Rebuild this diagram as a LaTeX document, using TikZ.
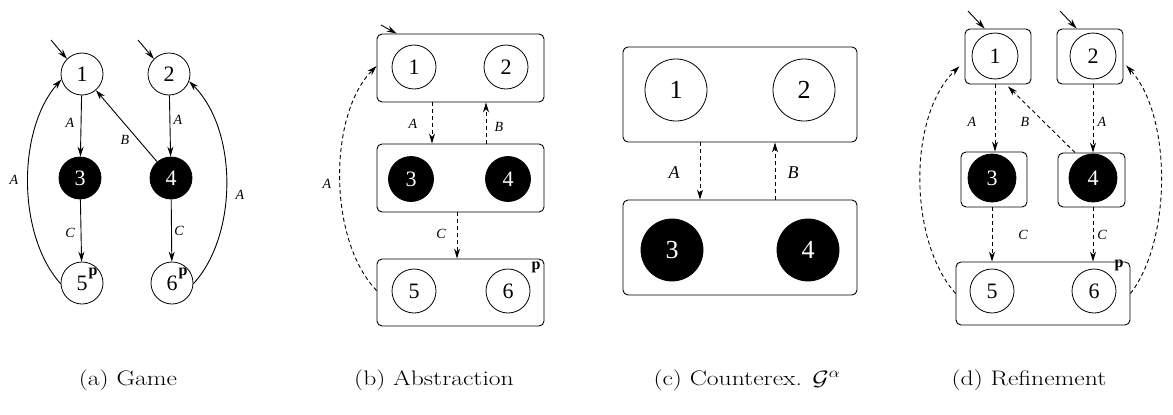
\documentclass[tikz,border=0pt]{standalone}
\usepackage{fontspec}
\usetikzlibrary{arrows.meta}
\newfontfamily\tms{Liberation Serif}
\newcommand{\stfont}{\tms\fontsize{22}{22}\selectfont}
\newcommand{\bigstfont}{\tms\fontsize{26}{26}\selectfont}
\newcommand{\labfont}{\tms\itshape\fontsize{14}{14}\selectfont}
\newcommand{\biglabfont}{\tms\itshape\fontsize{18}{18}\selectfont}
\newcommand{\pfont}{\tms\bfseries\fontsize{16}{16}\selectfont}
\newcommand{\capfont}{\fontsize{21}{24}\selectfont}
\newcommand{\capwide}[1]{\scalebox{1.22}[1]{#1}}
\tikzset{
  st/.style={circle, draw, line width=0.8pt, minimum size=42pt, inner sep=0pt, font=\stfont},
  pl/.style={st, fill=black, text=white},
  bst/.style={st, minimum size=62pt, font=\bigstfont},
  bpl/.style={bst, fill=black, text=white},
  box/.style={draw, rounded corners=5pt, line width=0.9pt, inner sep=0pt},
  arr/.style={-{Stealth[length=10pt,width=6pt]}, line width=0.9pt},
  darr/.style={arr, dash pattern=on 4pt off 3pt},
  lab/.style={font=\labfont, inner sep=0pt},
  blab/.style={font=\biglabfont, inner sep=0pt},
  plab/.style={font=\pfont, inner sep=0pt},
  captext/.style={font=\capfont, inner sep=0pt, anchor=base},
}
\begin{document}
\begin{tikzpicture}[x=1pt, y=-1pt]
\useasboundingbox (0,0) rectangle (1173,415);
% ---------------- (a) Game
\node[st] (a1) at (82,74) {1};
\node[st] (a2) at (169,74) {2};
\node[pl] (a3) at (80,178) {3};
\node[pl] (a4) at (171,178) {4};
\node[st] (a5) at (82,283) {\raisebox{-3pt}{5}};
\node[st] (a6) at (172,283) {\raisebox{-3pt}{6}\hspace{6pt}};
\node[plab] (ap5) at (93,273) {p};
\node[plab] (ap6) at (183,273) {p};
\coordinate (ai1) at (51,40);
\coordinate (ai2) at (138,40);
\draw[arr] (ai1) -- (a1.135);
\draw[arr] (ai2) -- (a2.135);
\draw[arr] (a1) -- (a3);
\draw[arr] (a2) -- (a4);
\draw[arr] (a4) -- (a1);
\draw[arr] (a3) -- (a5);
\draw[arr] (a4) -- (a6);
\draw[arr] (a5.182) .. controls (17,235) and (17,130) .. (a1.195);
\draw[arr] (a6.-2) .. controls (238,235) and (238,130) .. (a2.-20);
\node[lab] at (70,123) {A};
\node[lab] at (178,120) {A};
\node[lab] at (125,140) {B};
\node[lab] at (70,233) {C};
\node[lab] at (179,231) {C};
\node[lab] at (14,180) {A};
\node[lab] at (240,195) {A};
% ---------------- (b) Abstraction
\node[box, minimum width=167pt, minimum height=68pt] (b1) at (460.5,68) {};
\node[box, minimum width=167pt, minimum height=68pt] (b2) at (460.5,178) {};
\node[box, minimum width=167pt, minimum height=67pt] (b3) at (460.5,292.5) {};
\node[st, minimum size=44pt] (bn1) at (414,67) {1};
\node[st, minimum size=44pt] (bn2) at (506,67) {2};
\node[pl, minimum size=45pt] (bn3) at (411,179) {3};
\node[pl, minimum size=45pt] (bn4) at (508,179) {4};
\node[st, minimum size=44pt] (bn5) at (414,291) {5};
\node[st, minimum size=44pt] (bn6) at (508,291) {6};
\node[plab] (bp) at (536,267) {p};
\coordinate (bi) at (381,25);
\draw[arr] (bi) -- ([xshift=20pt]b1.north west);
\draw[darr] ([xshift=-28.5pt]b1.south) -- ([xshift=-28.5pt]b2.north);
\draw[darr] ([xshift=25.5pt]b2.north) -- ([xshift=25.5pt]b1.south);
\draw[darr] ([xshift=-3.5pt]b2.south) -- ([xshift=-3.5pt]b3.north);
\draw[darr] ([yshift=2pt]b3.west) .. controls (328,240) and (328,115) .. ([yshift=2pt]b1.west);
\node[lab] at (413,124) {A};
\node[lab] at (499,127) {B};
\node[lab] at (441,234) {C};
\node[lab] at (327,184) {A};
% ---------------- (c) Counterexample
\node[box, minimum width=234pt, minimum height=95pt] (c1) at (740,94.5) {};
\node[box, minimum width=234pt, minimum height=95pt] (c2) at (740,247.5) {};
\node[bst] (cn1) at (676,90) {1};
\node[bst] (cn2) at (804,90) {2};
\node[bpl] (cn3) at (672,250) {3};
\node[bpl] (cn4) at (808,250) {4};
\draw[darr] ([xshift=-40pt]c1.south) -- ([xshift=-40pt]c2.north);
\draw[darr] ([xshift=35pt]c2.north) -- ([xshift=35pt]c1.south);
\node[blab] at (674,173) {A};
\node[blab] at (793,173) {B};
% ---------------- (d) Refinement
\node[box, minimum width=66pt, minimum height=55pt] (d1) at (998,56.5) {};
\node[box, minimum width=66pt, minimum height=55pt] (d2) at (1090,56.5) {};
\node[box, minimum width=66pt, minimum height=55pt] (d3) at (994,179.5) {};
\node[box, minimum width=67pt, minimum height=54pt] (d4) at (1091.5,180) {};
\node[box, minimum width=174pt, minimum height=63pt] (d5) at (1043,293.5) {};
\node[st, minimum size=46pt] (dn1) at (995,56) {1};
\node[st, minimum size=46pt] (dn2) at (1093,56) {2};
\node[pl, minimum size=48pt] (dn3) at (992,178) {3};
\node[pl, minimum size=48pt] (dn4) at (1093,178) {4};
\node[st, minimum size=44pt] (dn5) at (992,291) {5};
\node[st, minimum size=44pt] (dn6) at (1094,291) {6};
\node[plab] (dp) at (1119,265) {p};
\coordinate (di1) at (968,11);
\coordinate (di2) at (1060,11);
\draw[arr] (di1) -- ([xshift=20pt]d1.north west);
\draw[arr] (di2) -- ([xshift=20pt]d2.north west);
\draw[darr] (dn1 |- d1.south) -- (dn1 |- d3.north);
\draw[darr] (dn2 |- d2.south) -- (dn2 |- d4.north);
\draw[darr] ([xshift=-16.5pt]d4.north) -- ([xshift=10pt,yshift=-2pt]d1.south);
\draw[darr] (dn3 |- d3.south) -- (dn3 |- d5.north);
\draw[darr] (dn4 |- d4.south) -- (dn4 |- d5.north);
\draw[darr, shorten >=7pt] (d5.west) .. controls (908,240) and (908,115) .. ([yshift=-5pt]d1.west);
\draw[darr, shorten >=4pt] (d5.east) .. controls (1172,240) and (1172,115) .. ([yshift=-6pt]d2.east);
\node[lab] at (972,122) {A};
\node[lab] at (1102,122) {A};
\node[lab] at (1025,122) {B};
\node[lab] at (1023,235) {C};
\node[lab] at (1102,235) {C};
% ---------------- captions
\node[captext] (capa) at (128,385) {\capwide{(a) Game}};
\node[captext] (capb) at (434,385) {\capwide{(b) Abstraction}};
\node[captext] (capc) at (747,385) {\capwide{(c) Counterex. $\mathcal{G}^\alpha$}};
\node[captext] (capd) at (1029,385) {\capwide{(d) Refinement}};
\end{tikzpicture}
\end{document}
